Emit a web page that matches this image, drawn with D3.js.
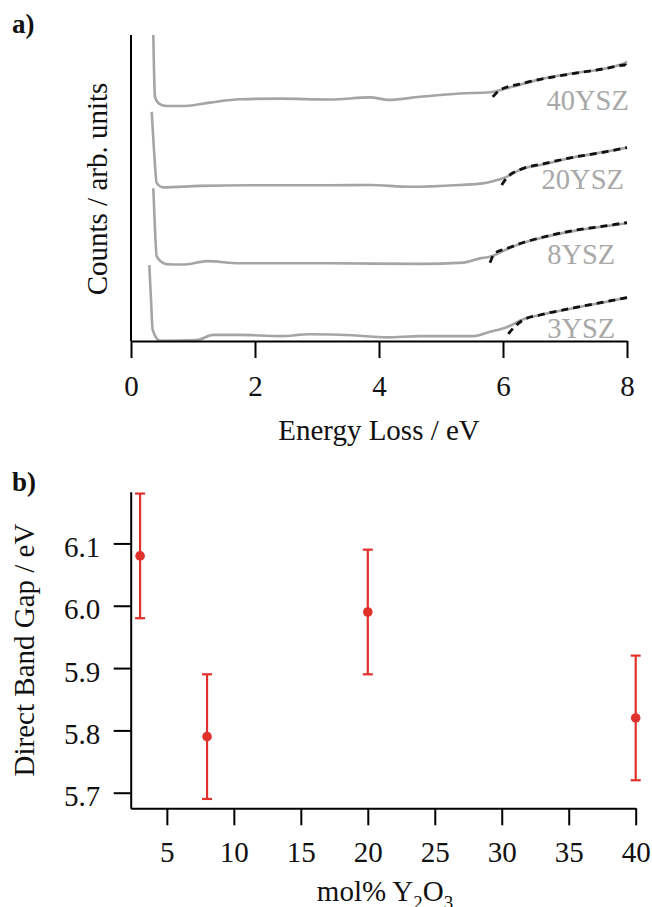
<!DOCTYPE html>
<html>
<head>
<meta charset="utf-8">
<script src="https://cdn.jsdelivr.net/npm/d3@7"></script>
<style>
  html, body { margin: 0; padding: 0; background: #ffffff; }
  svg { display: block; }
  text { font-family: "Liberation Serif", "Times New Roman", serif; }
</style>
</head>
<body>
<svg id="chart" width="652" height="907"></svg>
<script>
// ---------------- DATA ----------------
// Panel a: EELS low-loss spectra (energy in eV, counts in arb. units, offsets included)
const sampleNames = ["40YSZ", "20YSZ", "8YSZ", "3YSZ"];

const spectrum40 = [[0.36,100],[0.387,79.8],[0.452,77.6],[0.576,76.8],[0.871,76.8],[1.274,77.9],[1.758,79.0],[2.403,79.2],[3.21,78.9],[3.855,79.6],[4.161,78.8],[4.661,79.8],[5.306,80.9],[5.79,81.3],[6.06,82.6],[6.597,85.5],[7.129,87.5],[7.673,89.1],[7.968,90.9],[8.0,91.2]];
const spectrum20 = [[0.334,74.9],[0.371,62.4],[0.415,51.6],[0.516,50.2],[1.113,50.7],[1.919,50.9],[3.21,50.9],[3.855,51.0],[4.5,50.4],[5.306,51.0],[5.677,51.5],[5.903,52.6],[6.005,53.2],[6.327,56.4],[6.597,57.5],[7.129,60.0],[7.673,61.9],[8.0,63.2]];
const spectrum8 = [[0.36,49.9],[0.387,36.3],[0.415,27.5],[0.576,25.1],[0.871,25.0],[1.221,26.1],[1.758,25.4],[3.21,25.4],[4.661,25.2],[5.36,25.6],[5.629,27.0],[5.79,27.5],[6.06,30.0],[6.327,32.1],[6.597,33.6],[7.134,35.9],[7.673,37.6],[8.0,38.5]];
const spectrum3 = [[0.295,24.8],[0.323,13.4],[0.35,3.6],[0.468,0.1],[1.06,0.3],[1.327,2.0],[1.758,2.0],[2.403,1.6],[2.887,2.2],[3.581,1.9],[4.124,1.2],[4.661,1.6],[5.521,1.6],[5.79,3.0],[6.06,4.5],[6.327,7.1],[6.597,8.5],[7.134,10.7],[7.673,12.8],[8.0,14.2]];

// Band-gap fits (dashed)
const fit40 = [[5.834,79.8],[5.95,82.0],[6.32,84.2],[6.6,85.5],[7.13,87.4],[7.67,89.1],[7.98,90.2],[8.0,89.6]];
const fit20 = [[5.979,51.0],[6.06,53.3],[6.327,56.4],[6.597,57.7],[7.129,60.0],[7.673,61.9],[8.0,63.2]];
const fit8  = [[5.79,25.6],[5.871,28.7],[6.06,30.2],[6.327,32.2],[6.597,33.7],[7.134,36.1],[7.673,37.7],[8.0,38.7]];
const fit3  = [[6.085,2.3],[6.166,4.2],[6.327,6.9],[6.597,8.5],[7.134,10.8],[7.673,12.9],[8.0,14.2]];

const energyTicks = [0, 2, 4, 6, 8];

// Panel b: direct band gap vs Y2O3 content
const molY2O3   = [3, 8, 20, 40];
const bandGap   = [6.08, 5.79, 5.99, 5.82];
const gapError  = [0.10, 0.10, 0.10, 0.10];
const molTicks  = [5, 10, 15, 20, 25, 30, 35, 40];
const gapTicks  = [5.7, 5.8, 5.9, 6.0, 6.1];

// ---------------- LAYOUT ----------------
const spectra = [spectrum40, spectrum20, spectrum8, spectrum3];
const fits = [fit40, fit20, fit8, fit3];
// label anchors (text end) in data coordinates
const labelAnchors = [[8.03, 75.5], [7.95, 49.6], [7.81, 25.2], [7.81, 1.1]];

const svg = d3.select("#chart");
const FS = 29;
const grey = "#a5a5a5";
const red = "#e0312d";

// ---- Panel a ----
const xA = d3.scaleLinear().domain([0, 8]).range([131, 627]);
const yA = d3.scaleLinear().domain([0, 100]).range([341, 35]);

const gA = svg.append("g");

const line = d3.line().x(d => xA(d[0])).y(d => yA(d[1])).curve(d3.curveMonotoneX);

gA.selectAll("path.spec").data(spectra).join("path")
  .attr("class", "spec")
  .attr("d", line)
  .attr("fill", "none")
  .attr("stroke", grey)
  .attr("stroke-width", 2.6)
  .attr("stroke-linejoin", "round");

gA.selectAll("path.fit").data(fits).join("path")
  .attr("class", "fit")
  .attr("d", line)
  .attr("fill", "none")
  .attr("stroke", "#111")
  .attr("stroke-width", 2.8)
  .attr("stroke-dasharray", "7,5");

gA.selectAll("text.lab").data(sampleNames).join("text")
  .attr("class", "lab")
  .attr("x", (d, i) => xA(labelAnchors[i][0]))
  .attr("y", (d, i) => yA(labelAnchors[i][1]))
  .attr("text-anchor", "end")
  .attr("font-size", 28.5)
  .attr("fill", "#a8a8a8")
  .text(d => d);

// axes panel a
const axA = gA.append("g")
  .attr("transform", `translate(0,${yA(0)})`)
  .call(d3.axisBottom(xA).tickValues(energyTicks).tickFormat(d3.format("d"))
        .tickSize(17).tickSizeOuter(0).tickPadding(17));
axA.select(".domain").attr("stroke", "#000").attr("stroke-width", 2);
axA.selectAll(".tick line").attr("stroke", "#000").attr("stroke-width", 2);
axA.selectAll(".tick text").attr("font-size", FS).attr("fill", "#111")
  .attr("font-family", "Liberation Serif");

gA.append("line")
  .attr("x1", xA(0)).attr("x2", xA(0))
  .attr("y1", yA(100)).attr("y2", yA(0))
  .attr("stroke", "#000").attr("stroke-width", 2);

gA.append("text")
  .attr("x", (xA(0) + xA(8)) / 2).attr("y", 440)
  .attr("text-anchor", "middle").attr("font-size", FS).attr("fill", "#111")
  .text("Energy Loss / eV");

gA.append("text")
  .attr("transform", `translate(107,${(yA(0) + yA(100)) / 2 + 1}) rotate(-90)`)
  .attr("text-anchor", "middle").attr("font-size", FS).attr("fill", "#111")
  .text("Counts / arb. units");

svg.append("text").attr("x", 12).attr("y", 33)
  .attr("font-size", 27).attr("font-weight", "bold").attr("fill", "#111")
  .text("a)");

// ---- Panel b ----
const xB = d3.scaleLinear().domain([2.3, 40]).range([130.7, 635.7]);
const yB = d3.scaleLinear().domain([5.675, 6.183]).range([808.3, 491.7]);
const gB = svg.append("g");

const axBx = gB.append("g")
  .attr("transform", `translate(0,${yB.range()[0]})`)
  .call(d3.axisBottom(xB).tickValues(molTicks).tickFormat(d3.format("d"))
        .tickSize(17).tickSizeOuter(0).tickPadding(16));
const axBy = gB.append("g")
  .attr("transform", `translate(${xB.range()[0]},0)`)
  .call(d3.axisLeft(yB).tickValues(gapTicks).tickFormat(d3.format(".1f"))
        .tickSize(17).tickSizeOuter(0).tickPadding(13.5));
[axBx, axBy].forEach(ax => {
  ax.select(".domain").attr("stroke", "#000").attr("stroke-width", 2);
  ax.selectAll(".tick line").attr("stroke", "#000").attr("stroke-width", 2);
  ax.selectAll(".tick text").attr("font-size", FS).attr("fill", "#111")
    .attr("font-family", "Liberation Serif");
});
axBy.selectAll(".tick text").attr("dy", "0.45em");

const pts = molY2O3.map((m, i) => ({ m, g: bandGap[i], e: gapError[i] }));
const eb = gB.selectAll("g.eb").data(pts).join("g").attr("class", "eb")
  .attr("stroke", red).attr("stroke-width", 2.2);
eb.append("line")
  .attr("x1", d => xB(d.m)).attr("x2", d => xB(d.m))
  .attr("y1", d => yB(d.g - d.e)).attr("y2", d => yB(d.g + d.e));
eb.append("line")
  .attr("x1", d => xB(d.m) - 5).attr("x2", d => xB(d.m) + 5)
  .attr("y1", d => yB(d.g + d.e)).attr("y2", d => yB(d.g + d.e));
eb.append("line")
  .attr("x1", d => xB(d.m) - 5).attr("x2", d => xB(d.m) + 5)
  .attr("y1", d => yB(d.g - d.e)).attr("y2", d => yB(d.g - d.e));
gB.selectAll("circle.pt").data(pts).join("circle").attr("class", "pt")
  .attr("cx", d => xB(d.m)).attr("cy", d => yB(d.g))
  .attr("r", 4.8).attr("fill", red);

const xl = gB.append("text")
  .attr("x", 385).attr("y", 901)
  .attr("text-anchor", "middle").attr("font-size", FS).attr("fill", "#111");
xl.append("tspan").text("mol% Y");
xl.append("tspan").attr("font-size", 19).attr("dy", 8).text("2");
xl.append("tspan").attr("dy", -8).text("O");
xl.append("tspan").attr("font-size", 19).attr("dy", 8).text("3");

gB.append("text")
  .attr("transform", `translate(34,${(yB.range()[0] + yB.range()[1]) / 2}) rotate(-90)`)
  .attr("text-anchor", "middle").attr("font-size", FS).attr("fill", "#111")
  .text("Direct Band Gap / eV");

svg.append("text").attr("x", 12).attr("y", 491)
  .attr("font-size", 27).attr("font-weight", "bold").attr("fill", "#111")
  .text("b)");
</script>
</body>
</html>
